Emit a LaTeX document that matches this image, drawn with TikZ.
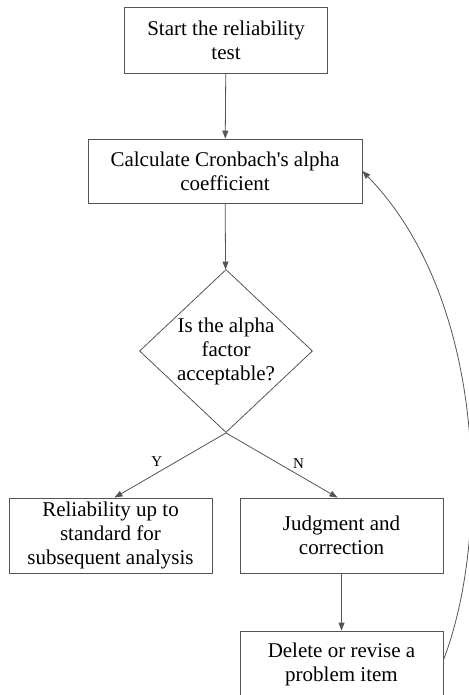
\documentclass[tikz,border=0pt]{standalone}
\usepackage{fontspec}
\setmainfont{Liberation Serif}
\usetikzlibrary{shapes.geometric, arrows.meta, positioning}
\definecolor{linegray}{RGB}{85,85,85}
\tikzstyle{stepbox} = [rectangle, draw=linegray, line width=0.8pt, align=center, inner sep=0pt, font=\fontsize{21}{24}\selectfont]
\tikzstyle{decision} = [diamond, draw=linegray, line width=0.8pt, align=center, inner sep=0pt, aspect=1.06, minimum width=173pt, minimum height=163pt, font=\fontsize{21}{24}\selectfont]
\tikzstyle{arrow} = [draw=linegray, line width=0.8pt, -{Triangle[length=8pt, width=6pt]}]
\tikzstyle{yn} = [font=\fontsize{15}{18}\selectfont, inner sep=2pt]

\begin{document}
\begin{tikzpicture}[x=1pt, y=-1pt]

    \useasboundingbox (0,0) rectangle (468,695);

    % Boxes
    \node[stepbox, minimum width=203pt, minimum height=66pt] (start) at (226,40) {Start the reliability\\test};
    \node[stepbox, minimum width=274pt, minimum height=64pt] (calc) at (225,171) {Calculate Cronbach\textquotesingle s alpha\\coefficient};
    \node[decision] (dec) at (226,351) {Is the alpha\\factor\\acceptable?};
    \node[stepbox, minimum width=203pt, minimum height=75pt] (rel) at (110.5,535.5) {Reliability up to\\standard for\\subsequent analysis};
    \node[stepbox, minimum width=203pt, minimum height=75pt] (judg) at (341.5,535.5) {Judgment and\\correction};
    \node[stepbox, minimum width=203pt, minimum height=66pt] (del) at (341.5,664) {Delete or revise a\\problem item};

    % Arrows
    \draw[arrow] (start) -- (calc);
    \draw[arrow] (calc) -- (dec);
    \draw[arrow] (dec.south) -- ([xshift=4pt]rel.north) node[yn, pos=0.55, above left] {Y};
    \draw[arrow] (dec.south) -- ([xshift=-4pt]judg.north) node[yn, pos=0.58, above right] {N};
    \draw[arrow] (judg) -- (del);

    % Loop back
    \draw[arrow] ([yshift=4pt]del.east) .. controls (490,540) and (488,300) .. (calc.east);

\end{tikzpicture}
\end{document}
